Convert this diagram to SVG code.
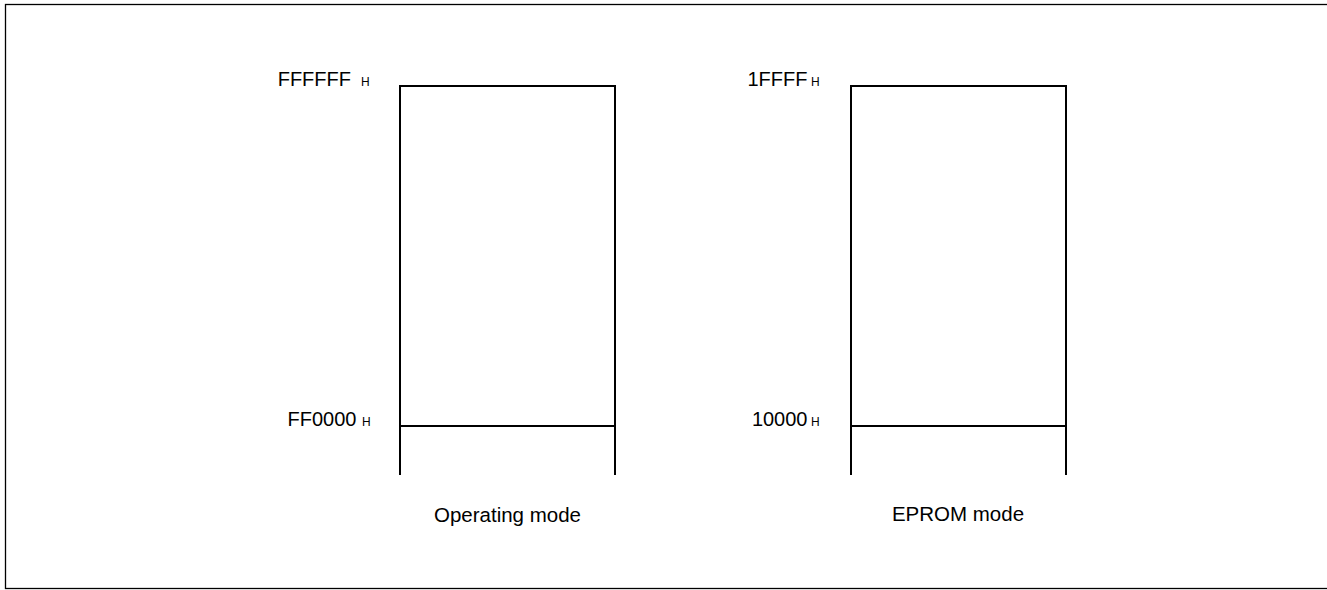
<svg xmlns="http://www.w3.org/2000/svg" width="1327" height="590" viewBox="0 0 1327 590">
<style>
.frame{fill:none;stroke:#000;stroke-width:2;stroke-linecap:butt;stroke-linejoin:miter}
.addr{font-family:"Liberation Sans",Arial,sans-serif;font-size:20px;fill:#000}
.h{font-family:"Liberation Sans",Arial,sans-serif;font-size:12px;fill:#000}
.mode{font-family:"Liberation Sans",Arial,sans-serif;font-size:20.5px;fill:#000;text-anchor:middle}
</style>
<rect x="5.5" y="4.5" width="1330" height="584" fill="#fff" stroke="#000" stroke-width="1.3"/>
<g id="operating-map">
<path class="frame" d="M400,475 V86 H615 V475 M400,426 H615"/>
<text class="addr" x="351" y="86" text-anchor="end">FFFFFF</text><text class="h" x="361" y="85.5">H</text>
<text class="addr" x="356.5" y="425.5" text-anchor="end">FF0000</text><text class="h" x="362" y="425.5">H</text>
<text class="mode" x="507.5" y="521.5">Operating mode</text>
</g>
<g id="eprom-map">
<path class="frame" d="M851,475 V86 H1066 V475 M851,426 H1066"/>
<text class="addr" x="807.5" y="86" text-anchor="end">1FFFF</text><text class="h" x="811" y="85.5">H</text>
<text class="addr" x="807.5" y="425.5" text-anchor="end">10000</text><text class="h" x="811" y="425.5">H</text>
<text class="mode" x="958" y="521">EPROM mode</text>
</g>
</svg>
